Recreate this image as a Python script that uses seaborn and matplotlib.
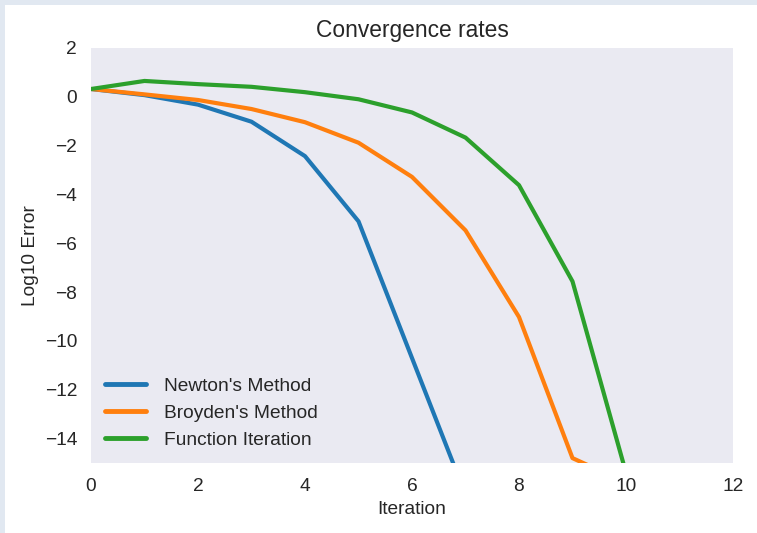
import numpy as np
import pandas as pd
import matplotlib
matplotlib.use("Agg")
import matplotlib.pyplot as plt
import seaborn as sns
from matplotlib.patches import Rectangle

iterations = list(range(0, 11))
newton = [0.32, 0.07, -0.32, -1.02, -2.43, -5.1, -10.7, -16.3]
broyden = [0.32, 0.1, -0.13, -0.5, -1.04, -1.88, -3.28, -5.47, -9.02, -14.8, -15.8]
func_iter = [0.32, 0.65, 0.52, 0.41, 0.19, -0.1, -0.64, -1.67, -3.62, -7.56, -15.4]
labels = ["Newton's Method", "Broyden's Method", "Function Iteration"]

sns.set_style("dark")
plt.rcParams['font.family'] = ['Liberation Sans', 'DejaVu Sans']
plt.rcParams['text.color'] = '#262626'
plt.rcParams['axes.labelcolor'] = '#262626'
plt.rcParams['xtick.color'] = '#262626'
plt.rcParams['ytick.color'] = '#262626'

fig = plt.figure(figsize=(7.57, 5.33), dpi=100, facecolor='white')
fig.patches.append(Rectangle((0, 1 - 5/533), 1, 5/533, transform=fig.transFigure,
                             facecolor='#e1e8f1', edgecolor='none', zorder=-10))
fig.patches.append(Rectangle((0, 0), 5/757, 1, transform=fig.transFigure,
                             facecolor='#e1e8f1', edgecolor='none', zorder=-10))
ax = fig.add_axes([91/757, 1 - 463/533, (733 - 91)/757, (463 - 48)/533])

df = pd.concat([
    pd.DataFrame({"Iteration": iterations[:len(newton)], "err": newton, "method": labels[0]}),
    pd.DataFrame({"Iteration": iterations[:len(broyden)], "err": broyden, "method": labels[1]}),
    pd.DataFrame({"Iteration": iterations[:len(func_iter)], "err": func_iter, "method": labels[2]}),
])
sns.lineplot(data=df, x="Iteration", y="err", hue="method", palette="tab10",
             linewidth=3, ax=ax, sort=False)

ax.set_xlim(0, 12)
ax.set_ylim(-15, 2)
ax.set_xticks(range(0, 13, 2))
ax.set_yticks(range(-14, 3, 2))
ax.tick_params(axis='both', labelsize=13.8, length=0)
ax.tick_params(axis='x', pad=11)
ax.tick_params(axis='y', pad=10)
ax.set_xlabel("Iteration", fontsize=13.8, labelpad=4)
ax.set_ylabel("Log10 Error", fontsize=13.8, labelpad=4)
ax.set_title("Convergence rates", fontsize=16.4, pad=8)
for s in ax.spines.values():
    s.set_visible(False)
leg = ax.legend(loc="lower left", frameon=False, fontsize=13.8, handlelength=2.1,
                labelspacing=0.5, borderaxespad=0.35, handletextpad=0.95)
for line in leg.get_lines():
    line.set_linewidth(3.5)

fig.savefig("out.png", dpi=100)
